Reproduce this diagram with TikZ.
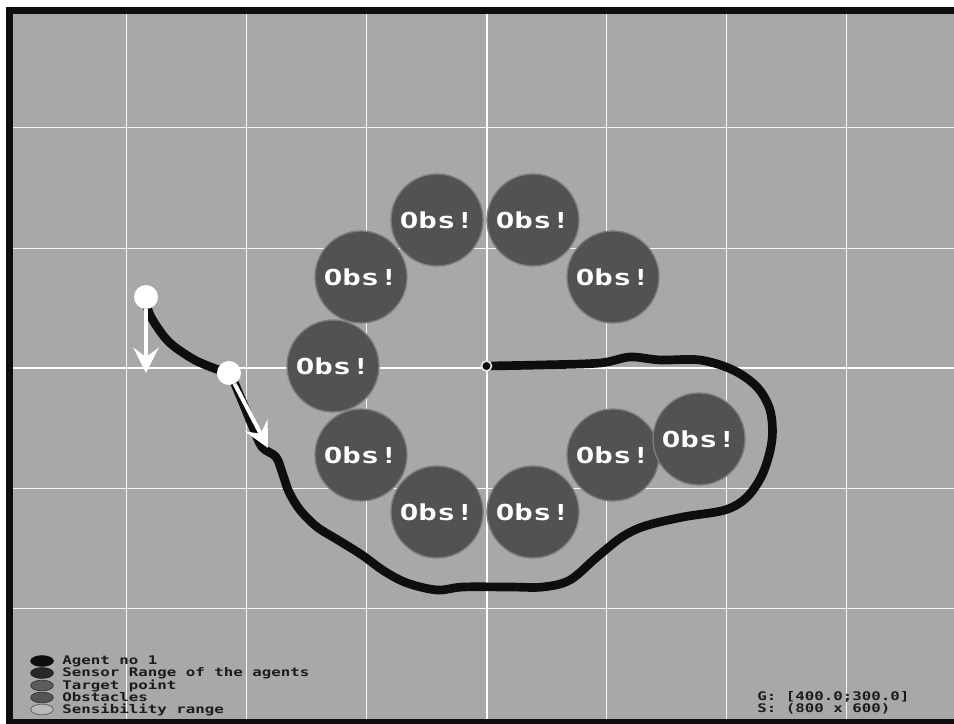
\documentclass[tikz,border=0pt]{standalone}
\usepackage{fontspec}
\newfontfamily\pix{DejaVu Sans Mono}
\usetikzlibrary{arrows.meta,shapes.geometric}
\definecolor{bg}{RGB}{168,168,168}
\definecolor{obsfill}{RGB}{82,82,82}
\definecolor{obsring}{RGB}{125,125,125}
\definecolor{pathc}{RGB}{14,14,14}
\definecolor{txt}{RGB}{28,28,28}
\tikzset{
  gridline/.style={draw=white!92!bg, line width=0.75pt},
  gridmain/.style={draw=white, line width=1.5pt},
  obs/.style={circle, fill=obsfill, draw=obsring, line width=1pt, minimum size=69pt, inner sep=0pt,
    text=white, font=\pix\bfseries\fontsize{16.5}{17}\selectfont},
  agent/.style={circle, fill=white, minimum size=18pt, inner sep=0pt},
  arr/.style={draw=white, line width=3pt, -{Stealth[length=19pt,width=19pt,inset=7pt]}},
  traj/.style={draw=pathc, line width=6.5pt, line cap=round, line join=round},
  legdot/.style={ellipse, minimum width=17pt, minimum height=8pt, inner sep=0pt, line width=0.6pt},
  legtext/.style={anchor=west, inner sep=0pt, text=txt, font=\pix\bfseries\fontsize{8.9}{9.5}\selectfont},
}
\newcommand{\wide}[1]{\scalebox{1.33}[1]{#1}}
\newcommand{\obswide}[1]{\scalebox{1.4}[1]{#1}}
\begin{document}
\begin{tikzpicture}[x=0.75pt,y=-0.75pt]
\useasboundingbox (0,0) rectangle (954,724);
\fill[white] (0,0) rectangle (954,724);
\fill[black!95] (6,7) rectangle (954,724);
\fill[bg] (13,14) rectangle (954,719);
% grid
\foreach \x in {126.5,246.5,366.5,606.5,726.5,846.5} \draw[gridline] (\x,14) -- (\x,719);
\foreach \y in {128,248,488,608} \draw[gridline] (13,\y) -- (954,\y);
\draw[gridmain] (486.5,14) -- (486.5,719);
\draw[gridmain] (13,367.5) -- (954,367.5);
% key points
\coordinate (start) at (146,297);
\coordinate (mid) at (229,373);
\coordinate (tgt) at (486.5,366);
\coordinate (e1) at (146,373);
\coordinate (e2) at (268,448);
% trajectory
\draw[traj] plot[smooth, tension=0.55] coordinates {
 (start) (150,315) (168,341) (193,359) (216,369) (mid) (240,396) (252,425) (262,447) (276,457)
 (283,475) (289,492) (300,510) (317,527) (338,540) (362,555) (384,571) (407,583) (437,590)
 (463,587) (510,587) (543,587) (570,580) (597,557) (622,537) (645,526) (683,517) (725,510)
 (747,497) (763,473) (772,440) (770,410) (757,387) (733,370) (700,360) (660,360) (630,357)
 (600,363) (540,365) (tgt)};
% obstacles
\node[obs] (o1) at (437,220) {\obswide{Obs!}};
\node[obs] (o2) at (533,220) {\obswide{Obs!}};
\node[obs] (o3) at (613,277) {\obswide{Obs!}};
\node[obs] (o4) at (361,277) {\obswide{Obs!}};
\node[obs] (o5) at (333,366) {\obswide{Obs!}};
\node[obs] (o6) at (361,455) {\obswide{Obs!}};
\node[obs] (o7) at (437,512) {\obswide{Obs!}};
\node[obs] (o8) at (533,512) {\obswide{Obs!}};
\node[obs] (o9) at (613,455) {\obswide{Obs!}};
\node[obs] (o10) at (699,439) {\obswide{Obs!}};
% target
\node[circle, fill=pathc, draw=white!75!bg, line width=1.2pt, minimum size=7.5pt, inner sep=0pt] (target) at (tgt) {};
% agents
\node[agent] (a1) at (start) {};
\node[agent] (a2) at (mid) {};
\draw[arr] (a1) -- (e1);
\draw[arr] (a2) -- (e2);
% legend
\node[legdot, fill=pathc, draw=pathc] (l1) at (42,661) {};
\node[legdot, fill={rgb,255:red,40;green,40;blue,40}, draw={rgb,255:red,30;green,30;blue,30}] (l2) at (42,673) {};
\node[legdot, fill={rgb,255:red,92;green,92;blue,92}, draw={rgb,255:red,60;green,60;blue,60}] (l3) at (42,685.5) {};
\node[legdot, fill={rgb,255:red,84;green,84;blue,84}, draw={rgb,255:red,60;green,60;blue,60}] (l4) at (42,697.5) {};
\node[legdot, fill={rgb,255:red,185;green,185;blue,185}, draw={rgb,255:red,100;green,100;blue,100}] (l5) at (42,709.5) {};
\node[legtext] (t1) at (62,661) {\wide{Agent no 1}};
\node[legtext] (t2) at (62,673) {\wide{Sensor Range of the agents}};
\node[legtext] (t3) at (62,685.5) {\wide{Target point}};
\node[legtext] (t4) at (62,697.5) {\wide{Obstacles}};
\node[legtext] (t5) at (62,709.5) {\wide{Sensibility range}};
% info
\node[legtext] (g) at (757,697) {\wide{G: [400.0;300.0]}};
\node[legtext] (s) at (757,708.5) {\wide{S: (800 x 600)}};
\end{tikzpicture}
\end{document}
